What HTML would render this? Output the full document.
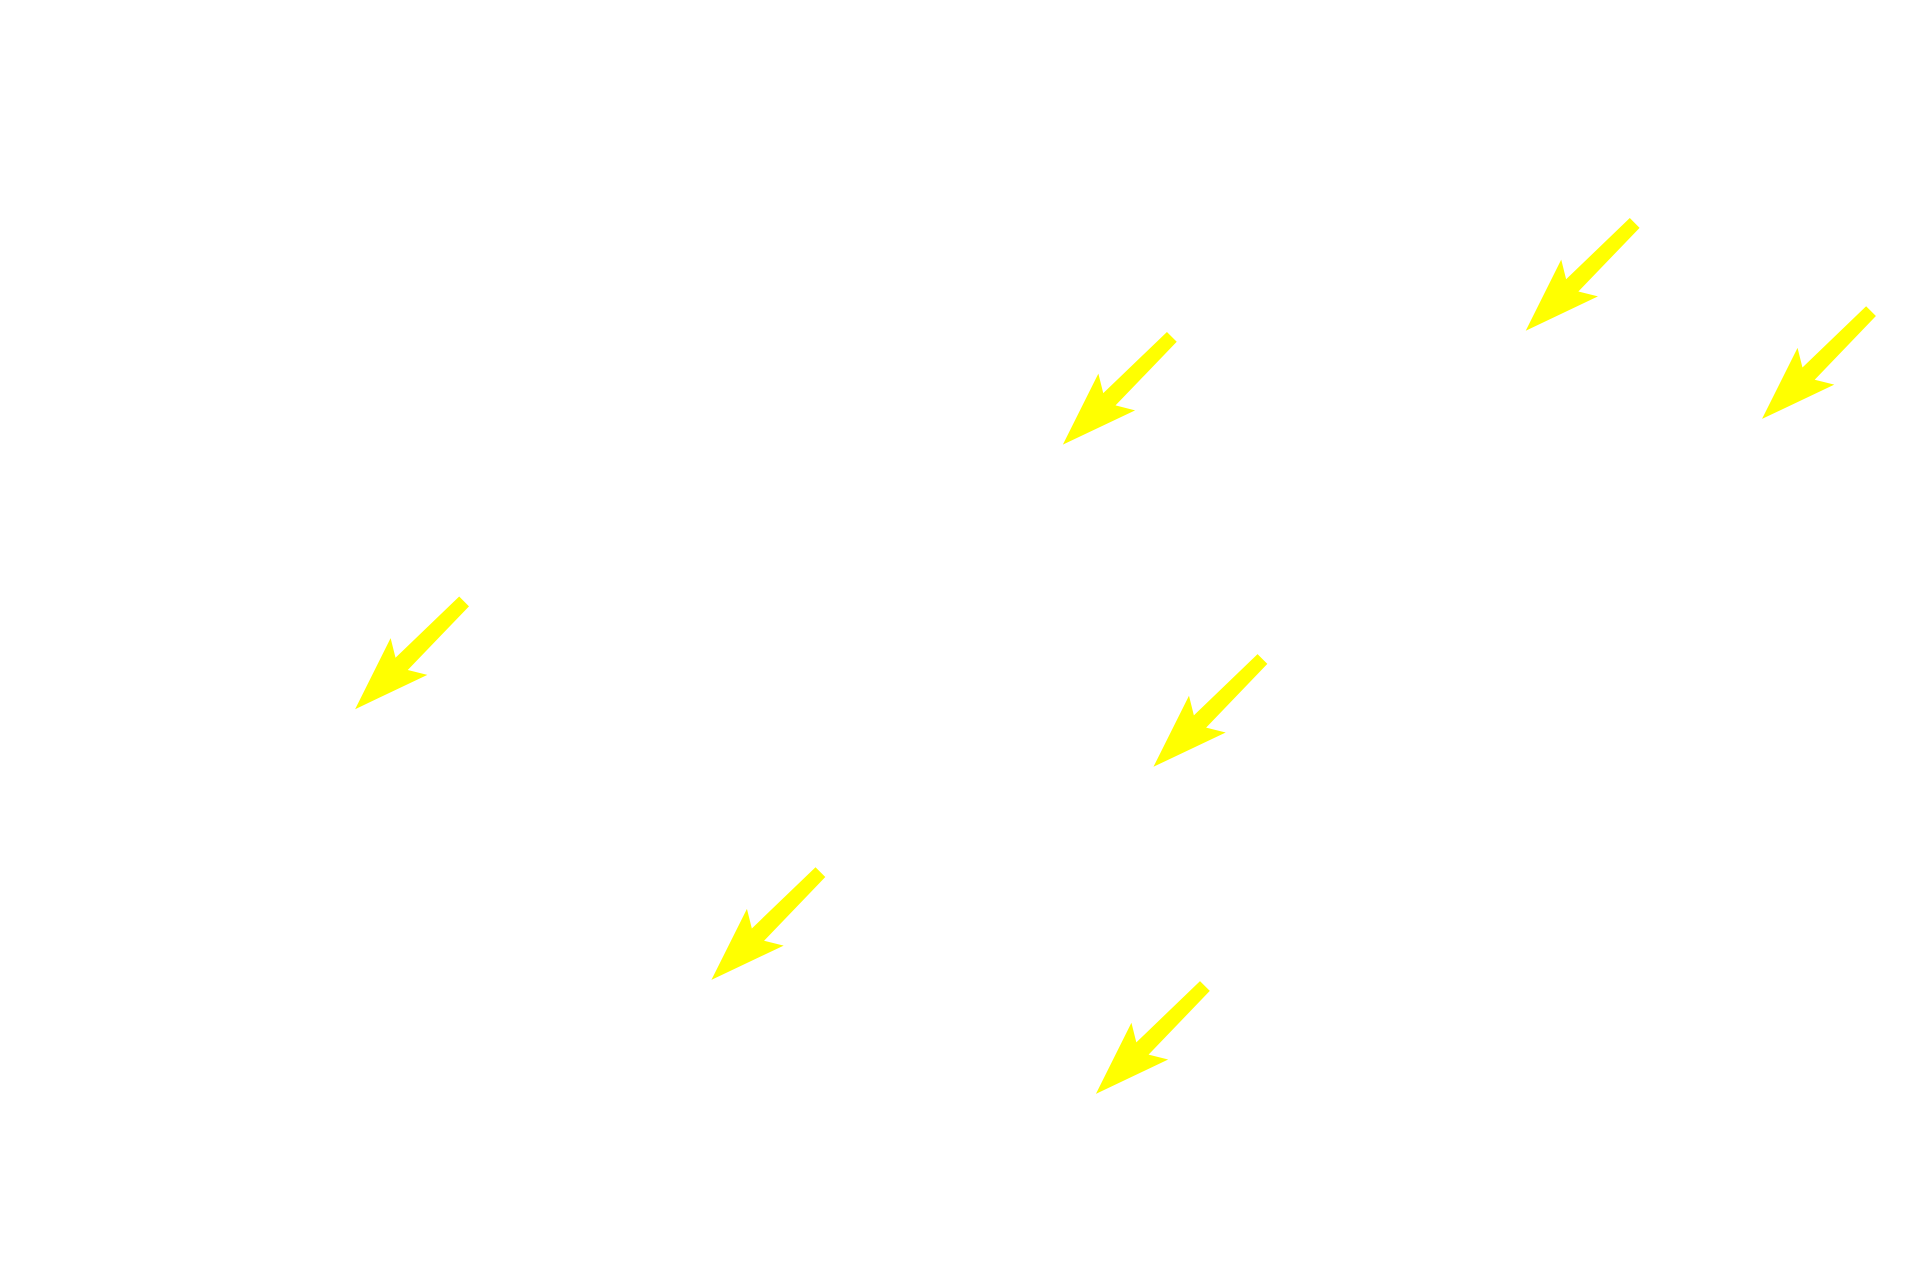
<!DOCTYPE html>
<html><head><meta charset="utf-8"><style>
html,body{margin:0;padding:0;background:#fff;width:1920px;height:1280px;overflow:hidden}
svg{display:block}
</style></head><body>
<svg width="1920" height="1280" viewBox="0 0 1568 1045" preserveAspectRatio="none" xmlns="http://www.w3.org/2000/svg">
<defs>
<polygon id="a" points="0,0 29,-58 33,-42 85,-92 93,-84 43,-32 59,-28" fill="#ffff00"/>
</defs>
<use href="#a" x="1246" y="270"/>
<use href="#a" x="1439" y="342"/>
<use href="#a" x="868" y="363"/>
<use href="#a" x="290" y="579"/>
<use href="#a" x="942" y="626"/>
<use href="#a" x="581" y="800"/>
<use href="#a" x="895" y="893"/>
</svg>
</body></html>
